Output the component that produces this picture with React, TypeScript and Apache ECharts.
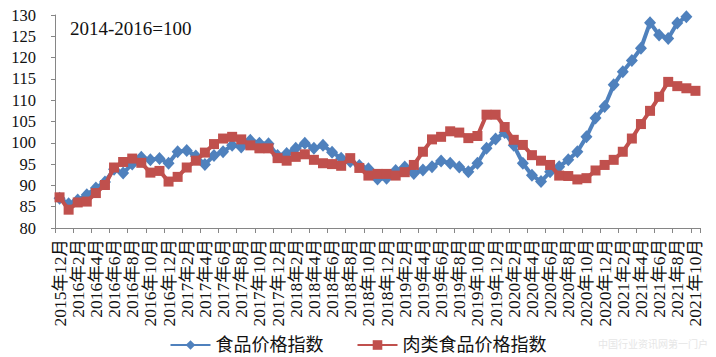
import React, { useEffect, useRef } from "react";
import * as echarts from "echarts";

const months: string[] = [
  "2015年12月",
  "2016年1月", "2016年2月", "2016年3月", "2016年4月", "2016年5月", "2016年6月",
  "2016年7月", "2016年8月", "2016年9月", "2016年10月", "2016年11月", "2016年12月",
  "2017年1月", "2017年2月", "2017年3月", "2017年4月", "2017年5月", "2017年6月",
  "2017年7月", "2017年8月", "2017年9月", "2017年10月", "2017年11月", "2017年12月",
  "2018年1月", "2018年2月", "2018年3月", "2018年4月", "2018年5月", "2018年6月",
  "2018年7月", "2018年8月", "2018年9月", "2018年10月", "2018年11月", "2018年12月",
  "2019年1月", "2019年2月", "2019年3月", "2019年4月", "2019年5月", "2019年6月",
  "2019年7月", "2019年8月", "2019年9月", "2019年10月", "2019年11月", "2019年12月",
  "2020年1月", "2020年2月", "2020年3月", "2020年4月", "2020年5月", "2020年6月",
  "2020年7月", "2020年8月", "2020年9月", "2020年10月", "2020年11月", "2020年12月",
  "2021年1月", "2021年2月", "2021年3月", "2021年4月", "2021年5月", "2021年6月",
  "2021年7月", "2021年8月", "2021年9月", "2021年10月",
];

// 食品价格指数 (Dec 2015 – Sep 2021)
const foodIndex: number[] = [
  87.0,
  85.7, 86.6, 87.8, 89.4, 90.8, 93.8, 92.9, 95.0, 96.6, 96.0, 96.3, 95.2,
  97.9, 98.2, 96.9, 94.9, 97.0, 97.9, 99.4, 99.0, 100.6, 99.9, 99.8, 97.0,
  97.5, 98.7, 99.9, 98.7, 99.4, 97.8, 96.4, 95.6, 94.7, 93.9, 91.5, 91.7,
  93.5, 94.3, 92.8, 93.6, 94.4, 95.7, 95.2, 94.3, 93.2, 95.2, 98.7, 100.9,
  102.4, 99.4, 95.2, 92.4, 90.9, 93.2, 94.4, 96.0, 97.9, 101.4, 105.8, 108.5,
  113.6, 116.7, 119.3, 122.2, 128.2, 125.3, 124.5, 128.1, 129.6,
];

// 肉类食品价格指数 (Dec 2015 – Oct 2021)
const meatIndex: number[] = [
  87.2,
  84.3, 86.0, 86.2, 88.2, 90.1, 94.2, 95.5, 96.3, 95.3, 93.0, 93.4, 90.9,
  92.0, 94.2, 95.8, 97.7, 99.7, 101.0, 101.4, 100.8, 99.4, 98.7, 98.7, 96.4,
  95.8, 96.7, 97.3, 96.0, 95.2, 95.0, 94.6, 96.4, 94.1, 92.3, 92.7, 92.7,
  92.3, 93.1, 94.8, 97.9, 100.8, 101.4, 102.7, 102.4, 101.1, 101.6, 106.6, 106.6,
  103.7, 100.7, 99.5, 97.1, 95.8, 94.8, 92.3, 92.2, 91.4, 91.7, 93.5, 94.8,
  96.0, 97.9, 101.0, 104.4, 107.5, 110.8, 114.3, 113.3, 112.8, 112.2,
];

const seriesNames: string[] = ["食品价格指数", "肉类食品价格指数"];
const baseNote = "2014-2016=100";

const SERIF = "'Liberation Serif', 'Times New Roman', 'Noto Sans CJK SC', serif";
const BLUE = "#4F81BD";
const RED = "#C0504D";

export default function App() {
  const ref = useRef<HTMLDivElement>(null);

  useEffect(() => {
    if (!ref.current) return;
    const chart = echarts.init(ref.current, null, { renderer: "svg" });
    chart.setOption({
      animation: false,
      backgroundColor: "#ffffff",
      grid: { left: 55, right: 16, top: 15, bottom: 129, containLabel: false },
      xAxis: {
        type: "category",
        data: months,
        boundaryGap: true,
        axisLine: { show: true, lineStyle: { color: "#868686", width: 1 } },
        axisTick: { show: true, interval: 1, length: 5, lineStyle: { color: "#868686" } },
        axisLabel: {
          interval: 1,
          rotate: 90,
          margin: 11,
          fontSize: 17.5,
          fontFamily: SERIF,
          color: "#111",
        },
        splitLine: { show: false },
      },
      yAxis: {
        type: "value",
        min: 80,
        max: 130,
        interval: 5,
        axisLine: { show: true, lineStyle: { color: "#868686", width: 1 } },
        axisTick: { show: true, length: 4, lineStyle: { color: "#868686" } },
        axisLabel: { margin: 19, fontSize: 16.5, fontFamily: SERIF, color: "#111" },
        splitLine: { show: false },
      },
      legend: {
        show: true,
        left: "center",
        top: 331,
        itemWidth: 40,
        itemHeight: 12,
        itemGap: 33,
        textStyle: { fontSize: 18, fontFamily: SERIF, color: "#111" },
        data: seriesNames,
      },
      graphic: [
        {
          type: "text",
          left: 70,
          top: 19,
          style: { text: baseNote, fontSize: 19, fontFamily: SERIF, fill: "#111" },
        },
        {
          type: "text",
          left: 598,
          top: 338,
          style: { text: "中国行业资讯网第一门户", fontSize: 10, fontFamily: "'Noto Sans CJK SC', sans-serif", fill: "#e6e6e6" },
        },
      ],
      series: [
        {
          name: seriesNames[0],
          type: "line",
          data: foodIndex,
          symbol: "diamond",
          symbolSize: [12, 13],
          showAllSymbol: true,
          lineStyle: { color: BLUE, width: 4 },
          itemStyle: { color: BLUE },
          z: 2,
        },
        {
          name: seriesNames[1],
          type: "line",
          data: meatIndex,
          symbol: "rect",
          symbolSize: 10,
          showAllSymbol: true,
          lineStyle: { color: RED, width: 4 },
          itemStyle: { color: RED },
          z: 3,
        },
      ],
    });
    return () => chart.dispose();
  }, []);

  return (
    <div
      ref={ref}
      style={{ position: "fixed", left: 0, top: 0, width: 716, height: 357, background: "#fff" }}
    />
  );
}
